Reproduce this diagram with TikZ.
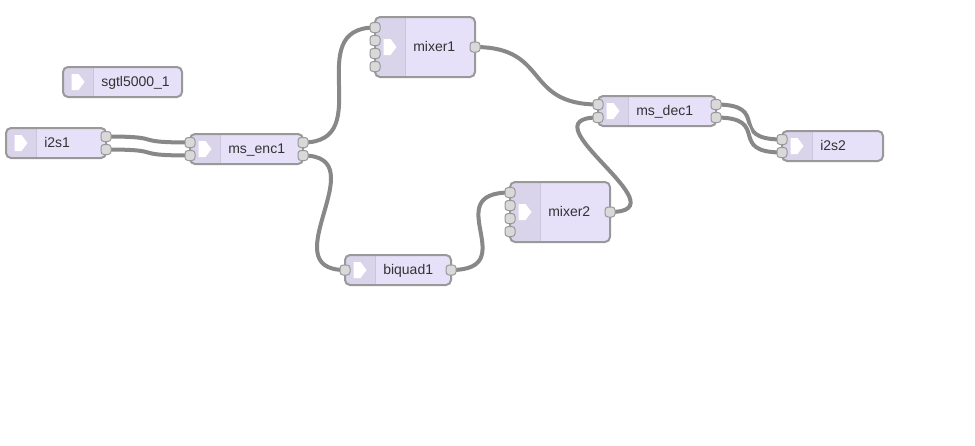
\documentclass[tikz,border=0pt]{standalone}
\usepackage{fontspec}
\setmainfont{Liberation Sans}
\usetikzlibrary{backgrounds}

\definecolor{nodefill}{HTML}{E6E0F8}
\definecolor{iconfill}{HTML}{DAD4EB}
\definecolor{iconline}{HTML}{CBC5DD}
\definecolor{edgegrey}{HTML}{999999}
\definecolor{portfill}{HTML}{D9D9D9}
\definecolor{wiregrey}{HTML}{888888}
\definecolor{labeltext}{HTML}{333333}

\tikzset{
  boxbody/.style={rectangle, fill=nodefill, draw=none, inner sep=0pt, outer sep=0pt, rounded corners=3.75pt},
  boxedge/.style={draw=edgegrey, line width=1.5pt, rounded corners=3.75pt},
  port/.style={rectangle, fill=portfill, draw=edgegrey, line width=0.75pt, rounded corners=2.25pt,
    minimum size=7.5pt, inner sep=0pt, outer sep=0pt},
  blocklabel/.style={anchor=base west, inner sep=0pt, text=labeltext, font=\fontsize{10.5pt}{12pt}\selectfont},
  wire/.style={draw=white, double=wiregrey, double distance=3pt, line width=0.75pt}
}

% #1 name, #2 left, #3 top, #4 width, #5 height, #6 label, #7 inputs, #8 outputs
\newcommand\audioblock[8]{%
  \node[boxbody, minimum width=#4*0.75pt, minimum height=#5*0.75pt, anchor=north west] (#1) at (#2,#3) {};
  \begin{scope}
    \clip[rounded corners=3.75pt] (#1.north west) rectangle (#1.south east);
    \fill[iconfill] (#1.north west) rectangle ([xshift=22.5pt]#1.south west);
  \end{scope}
  \draw[iconline, line width=0.75pt] ([xshift=22.5pt]#1.north west) -- ([xshift=22.5pt]#1.south west);
  \draw[boxedge] (#1.north west) rectangle (#1.south east);
  % white "audio in" arrow icon
  \fill[white] ([shift={(8.5,-8)}]#1.west) -- ([shift={(15.5,-8)}]#1.west)
    -- ([shift={(21.5,0)}]#1.west) -- ([shift={(15.5,8)}]#1.west)
    -- ([shift={(8.5,8)}]#1.west) -- cycle;
  \node[blocklabel] (#1-text) at ([shift={(38,4.8)}]#1.west) {#6};
  \ifnum#7>0
    \foreach \k in {1,...,#7}{%
      \pgfmathsetmacro\py{#3+#5/2-(#7-1)*6.5+13*(\k-1)}
      \node[port] (#1-in\k) at (#2,\py) {};
    }%
  \fi
  \ifnum#8>0
    \foreach \k in {1,...,#8}{%
      \pgfmathsetmacro\py{#3+#5/2-(#8-1)*6.5+13*(\k-1)}
      \node[port] (#1-out\k) at (#2+#4,\py) {};
    }%
  \fi
}

\begin{document}
\begin{tikzpicture}[x=0.75pt, y=-0.75pt]
  \useasboundingbox (0,0) rectangle (975,446);

  % audio objects
  \audioblock{sgtl}{63}{67}{119}{30}{sgtl5000\_1}{0}{0}
  \audioblock{i2s1}{6}{128}{100}{30}{i2s1}{0}{2}
  \audioblock{msenc1}{190}{134}{113}{30}{ms\_enc1}{2}{2}
  \audioblock{mixer1}{375}{17}{100}{60}{mixer1}{4}{1}
  \audioblock{msdec1}{598}{96}{118}{30}{ms\_dec1}{2}{2}
  \audioblock{i2s2}{782}{131}{101}{30}{i2s2}{2}{0}
  \audioblock{mixer2}{510}{182}{100}{60}{mixer2}{4}{1}
  \audioblock{biquad1}{345}{255}{106}{30}{biquad1}{1}{1}

  % patch cords, kept beneath the ports
  \begin{pgfonlayer}{background}
    \fill[white] (0,0) rectangle (975,446);
    \draw[wire] (i2s1-out1.center) .. controls +(63,0) and +(-63,0) .. (msenc1-in1.center);
    \draw[wire] (i2s1-out2.center) .. controls +(63,0) and +(-63,0) .. (msenc1-in2.center);
    \draw[wire] (msenc1-out1.center) .. controls +(75,0) and +(-75,0) .. (mixer1-in1.center);
    \draw[wire] (msenc1-out2.center) .. controls +(75,0) and +(-75,0) .. (biquad1-in1.center);
    \draw[wire] (biquad1-out1.center) .. controls +(73,0) and +(-73,0) .. (mixer2-in1.center);
    \draw[wire] (mixer1-out1.center) .. controls +(75,0) and +(-75,0) .. (msdec1-in1.center);
    \draw[wire] (mixer2-out1.center) .. controls +(76,0) and +(-76,0) .. (msdec1-in2.center);
    \draw[wire] (msdec1-out1.center) .. controls +(56,0) and +(-56,0) .. (i2s2-in1.center);
    \draw[wire] (msdec1-out2.center) .. controls +(56,0) and +(-56,0) .. (i2s2-in2.center);
  \end{pgfonlayer}
\end{tikzpicture}
\end{document}
